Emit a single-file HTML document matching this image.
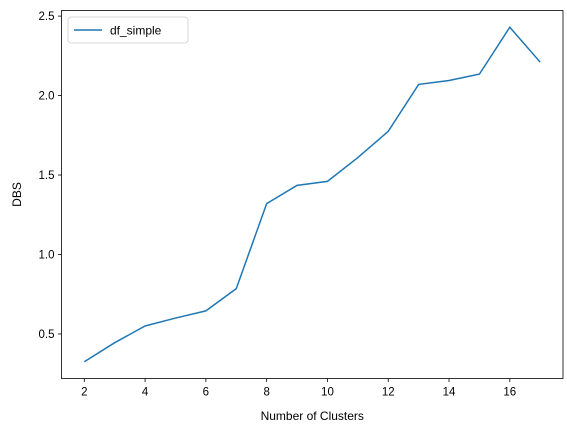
<!DOCTYPE html>
<html><head><meta charset="utf-8"><style>
body{margin:0;background:#fff;}
svg text{font-family:"Liberation Sans","DejaVu Sans",sans-serif;fill:#000;}
</style></head><body>
<svg id="chart" width="567" height="432" viewBox="0 0 567 432"></svg>
<script>
const categories=[2,3,4,5,6,7,8,9,10,11,12,13,14,15,16,17];
const dbsValues=[0.325,0.445,0.55,0.60,0.645,0.785,1.32,1.435,1.46,1.61,1.775,2.07,2.095,2.135,2.43,2.21];
const xTicks=[2,4,6,8,10,12,14,16];
const yTicks=[0.5,1.0,1.5,2.0,2.5];
const yTickLabels=["0.5","1.0","1.5","2.0","2.5"];
const L=61.5,R=563,T=10.5,B=378.5;
const xmin=Math.min(...categories),xmax=Math.max(...categories);
const ymin=Math.min(...dbsValues),ymax=Math.max(...dbsValues);
const xm=(xmax-xmin)*0.05,ym=(ymax-ymin)*0.05;
const x=v=>L+(v-(xmin-xm))/((xmax+xm)-(xmin-xm))*(R-L);
const y=v=>B-(v-(ymin-ym))/((ymax+ym)-(ymin-ym))*(B-T);
const svg=document.getElementById('chart');const NS='http://www.w3.org/2000/svg';
function mk(t,a,p){const e=document.createElementNS(NS,t);for(const k in a)e.setAttribute(k,a[k]);(p||svg).appendChild(e);return e;}
const line=mk('polyline',{points:categories.map((c,i)=>x(c)+','+y(dbsValues[i])).join(' '),fill:'none',stroke:'#1f77b4','stroke-width':1.5});


xTicks.forEach(t=>{
 const l=mk('line',{x1:x(t),x2:x(t),y1:B,y2:B+3.5,stroke:'#000','stroke-width':0.8});
 
 
 const tx=mk('text',{x:x(t),y:B+17,'text-anchor':'middle','font-size':11.5});tx.textContent=t;
 
 
});
yTicks.forEach((t,i)=>{
 const l=mk('line',{x1:L-3.5,x2:L,y1:y(t),y2:y(t),stroke:'#000','stroke-width':0.8});
 
 
 const tx=mk('text',{x:L-7,y:y(t)+4,'text-anchor':'end','font-size':11.5});tx.textContent=yTickLabels[i];
 
 
});
const frame=mk('rect',{x:L,y:T,width:R-L,height:B-T,fill:'none',stroke:'#000','stroke-width':0.8});


const xl=mk('text',{x:(L+R)/2,y:420,'text-anchor':'middle','font-size':12});xl.textContent='Number of Clusters';


const yl=mk('text',{x:0,y:0,'text-anchor':'middle','font-size':12,transform:`translate(21,${(T+B)/2}) rotate(-90)`});yl.textContent='DBS';


const g=mk('g',{});


mk('rect',{x:68,y:17,width:120,height:26,rx:3,fill:'#fff',stroke:'#ccc','stroke-width':0.8},g);
mk('line',{x1:74,x2:102,y1:30,y2:30,stroke:'#1f77b4','stroke-width':1.5},g);
const lt=mk('text',{x:110,y:34.5,'font-size':12},g);lt.textContent='df_simple';


</script>
</body></html>
